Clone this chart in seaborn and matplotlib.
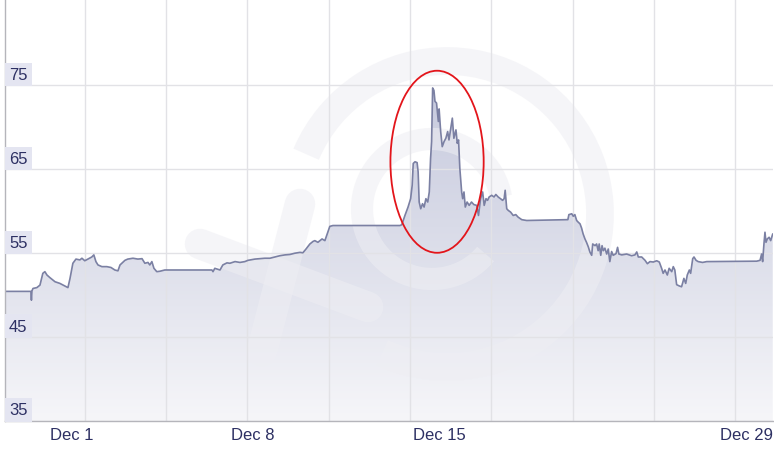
import numpy as np
import matplotlib
matplotlib.use("Agg")
import matplotlib.pyplot as plt
from matplotlib.patches import Polygon, Ellipse, Arc
from matplotlib.lines import Line2D
from matplotlib.colors import LinearSegmentedColormap
import seaborn as sns

# day of December (fractional) and rate
days = [-0.54, 0.46, 0.48, 0.50, 0.54, 0.69, 0.81, 0.92, 1.00, 1.08, 1.19, 1.39, 1.58, 1.77,
        1.89, 1.97, 2.08, 2.20, 2.35, 2.43, 2.54, 2.66, 2.81, 2.89, 2.97, 3.05, 3.20, 3.39,
        3.55, 3.70, 3.82, 3.90, 4.09, 4.20, 4.40, 4.59, 4.75, 4.86, 4.98, 5.05, 5.13, 5.21,
        5.32, 5.44, 5.63, 7.45, 7.49, 7.56, 7.76, 7.87, 8.03, 8.14, 8.34, 8.53, 8.72, 8.84,
        9.11, 9.30, 9.49, 9.69, 9.88, 10.07, 10.27, 10.46, 10.65, 10.85, 10.96, 11.08, 11.23,
        11.35, 11.42, 11.54, 11.70, 11.81, 12.00, 12.12, 14.71, 14.78, 14.90, 15.02, 15.12,
        15.18, 15.22, 15.29, 15.37, 15.41, 15.45, 15.51, 15.58, 15.64, 15.71, 15.78, 15.84,
        15.89, 15.93, 15.97, 16.02, 16.06, 16.12, 16.19, 16.22, 16.28, 16.34, 16.41, 16.48,
        16.55, 16.60, 16.66, 16.73, 16.79, 16.87, 16.92, 16.97, 17.02, 17.09, 17.13, 17.18,
        17.23, 17.30, 17.38, 17.47, 17.56, 17.67, 17.74, 17.82, 17.90, 17.96, 18.03, 18.09,
        18.15, 18.25, 18.34, 18.41, 18.50, 18.59, 18.67, 18.73, 18.77, 18.83, 18.89, 18.98,
        19.08, 19.18, 19.27, 19.41, 19.60, 21.19, 21.23, 21.34, 21.40, 21.46, 21.53, 21.59,
        21.66, 21.72, 21.78, 21.85, 21.91, 21.98, 22.04, 22.11, 22.15, 22.24, 22.30, 22.36,
        22.40, 22.46, 22.51, 22.56, 22.62, 22.69, 22.75, 22.81, 22.88, 22.94, 23.05, 23.11,
        23.16, 23.27, 23.46, 23.65, 23.78, 23.85, 23.91, 24.04, 24.17, 24.26, 24.36, 24.49,
        24.62, 24.72, 24.81, 24.87, 24.94, 25.03, 25.10, 25.20, 25.26, 25.32, 25.39, 25.49,
        25.58, 25.67, 25.74, 25.80, 25.88, 25.93, 26.01, 26.06, 26.14, 26.22, 26.39, 26.55,
        28.48, 28.61, 28.67, 28.71, 28.76, 28.80, 28.84, 28.89, 28.96, 29.02, 29.10]
rate = [50.45, 50.45, 49.4, 50.5, 50.8, 50.9, 51.2, 52.6, 52.8, 52.4, 52.1, 51.6, 51.4, 51.1,
        50.9, 52.0, 53.8, 54.3, 54.2, 54.4, 54.1, 54.3, 54.55, 54.8, 54.0, 53.6, 53.4, 53.4,
        53.3, 53.0, 52.9, 53.6, 54.15, 54.3, 54.4, 54.3, 54.35, 53.8, 53.9, 53.6, 54.0, 53.2,
        52.8, 52.85, 53.0, 53.0, 52.8, 53.2, 53.0, 53.6, 53.85, 53.8, 54.0, 53.9, 54.0, 54.15,
        54.3, 54.35, 54.4, 54.4, 54.55, 54.7, 54.8, 54.85, 55.0, 55.1, 55.05, 55.5, 56.1,
        56.4, 56.5, 56.3, 56.7, 56.5, 58.2, 58.3, 58.3, 58.4, 59.5, 60.5, 61.5,
        63.1, 65.7, 65.9, 65.8, 64.7, 61.1, 60.3, 60.9, 60.5, 61.5, 61.1, 62.3,
        66.3, 68.3, 74.7, 74.4, 73.1, 72.9, 70.7, 72.2, 69.5, 67.7, 68.3, 68.7,
        69.5, 68.5, 69.7, 71.1, 68.7, 69.7, 68.1, 68.5, 65.1, 62.3, 61.5, 62.3,
        60.5, 61.1, 60.7, 61.1, 60.8, 60.7, 59.5, 61.5, 62.3, 60.7, 61.5, 61.3,
        61.7, 61.9, 61.7, 62.0, 61.7, 61.5, 61.3, 61.5, 62.5, 60.3, 60.1, 59.9,
        59.5, 59.6, 59.3, 59.0, 58.9, 59.0, 59.6, 59.7, 59.4, 59.6, 58.9, 58.7,
        58.5, 58.0, 57.3, 56.7, 56.3, 55.75, 55.15, 54.75, 56.1, 55.9, 56.1, 55.3,
        56.1, 54.75, 55.9, 55.3, 55.6, 54.9, 55.5, 54.0, 55.2, 54.75, 54.95, 55.7,
        54.9, 54.8, 54.9, 54.7, 54.8, 55.15, 54.55, 54.55, 54.15, 53.75, 54.0, 53.95,
        54.1, 53.95, 53.2, 52.6, 53.0, 52.4, 53.2, 52.8, 53.4, 53.0, 51.25, 51.1,
        51.0, 52.0, 51.4, 52.4, 53.0, 52.6, 54.35, 54.55, 54.15, 54.0, 53.9, 54.0,
        54.05, 54.15, 54.9, 54.0, 56.1, 57.5, 56.3, 56.7, 56.9, 56.5, 57.3]

y_ticks = [35, 45, 55, 65, 75]
x_ticks = [1, 8, 15, 29]
x_labels = ["Dec 1", "Dec 8", "Dec 15", "Dec 29"]

x_min, x_max = -0.54, 29.11
y_min, y_max = 35, 85.3

sns.set_style("white")
plt.rcParams['font.family'] = ['Liberation Sans', 'DejaVu Sans']

W, H = 774, 452
fig = plt.figure(figsize=(W / 100, H / 100), dpi=100)
ax = fig.add_axes([5 / W, 30 / H, 768 / W, 422 / H])

# gradient fill under the line
cmap = LinearSegmentedColormap.from_list(
    "xe", [(0, "#f6f6f9"), (0.46, "#d9dbe8"), (1, "#bcc0d8")])
grad = np.linspace(0, 1, 256).reshape(-1, 1)
img = ax.imshow(grad, extent=[x_min, x_max, y_min, y_max], origin="lower",
                aspect="auto", cmap=cmap, zorder=1)
poly = Polygon(np.column_stack([days + [days[-1], days[0]], rate + [y_min, y_min]]),
               closed=True, facecolor="none", edgecolor="none")
ax.add_patch(poly)
img.set_clip_path(poly)

# faint "xe" watermark, drawn in figure pixels
px = fig.dpi_scale_trans
def to_in(x, y):
    return x / 100, (H - y) / 100

wm = dict(color="#eeeef3", alpha=0.55, zorder=1.5, clip_on=False)
ax.add_patch(Arc(to_in(447, 215), 3.06, 3.06, theta1=-115, theta2=157, transform=px,
                 linewidth=20, edgecolor=wm["color"], alpha=wm["alpha"], zorder=1.5))
ax.add_patch(Arc(to_in(432, 210), 1.40, 1.40, theta1=10, theta2=320, transform=px,
                 linewidth=16, edgecolor=wm["color"], alpha=wm["alpha"], zorder=1.5))
for (x0, y0), (x1, y1) in [((200, 245), (368, 308)), ((300, 205), (262, 352))]:
    a, b = to_in(x0, y0), to_in(x1, y1)
    ax.add_line(Line2D([a[0], b[0]], [a[1], b[1]], transform=px, linewidth=22,
                       solid_capstyle="round", **wm))

sns.lineplot(x=days, y=rate, ax=ax, color="#7b80a3", linewidth=1.2,
             estimator=None, sort=False, zorder=4)

# highlight around the spike
ax.add_patch(Ellipse((16.14, 65.9), 3.6, 21.7, fill=False, edgecolor="#e3151b",
                     linewidth=1.3, zorder=6))

ax.set_xlim(x_min, x_max)
ax.set_ylim(y_min, y_max)

# grid
ax.set_yticks(y_ticks)
ax.set_xticks(np.arange(2.54, x_max, 3.14), minor=True)
ax.set_xticks(x_ticks)
ax.set_axisbelow(False)
ax.grid(False)
ax.grid(which="minor", axis="x", color="#e2e2e6", linewidth=1, zorder=2)
ax.grid(which="major", axis="y", color="#e2e2e6", linewidth=1, zorder=2)
ax.tick_params(axis="x", which="major", length=22, width=1, color="#dedee2",
               labelbottom=False, direction="out")
ax.tick_params(axis="x", which="minor", length=0)
ax.tick_params(axis="y", length=0, labelleft=False)

for s in ["top", "right"]:
    ax.spines[s].set_visible(False)
for s in ["left", "bottom"]:
    ax.spines[s].set_color("#b5b5bb")
    ax.spines[s].set_linewidth(1)
    ax.spines[s].set_zorder(5)

text_color = "#2d3063"
for v in y_ticks:
    ax.annotate(str(v), xy=(0, v), xycoords=("axes fraction", "data"),
                xytext=(4, 11), textcoords="offset pixels", ha="left", va="center",
                fontsize=12, color=text_color, zorder=7,
                bbox=dict(boxstyle="square,pad=0.25", fc="#e4e5f1", ec="none"))

for d, lab in zip(x_ticks, x_labels):
    last = d == x_ticks[-1]
    ax.annotate(lab, xy=(d, 0), xycoords=("data", "axes fraction"),
                xytext=(3 if last else 5, -14), textcoords="offset pixels",
                ha="right" if last else "left", va="center",
                fontsize=12, color=text_color, annotation_clip=False)

fig.savefig("out.png", dpi=100)
